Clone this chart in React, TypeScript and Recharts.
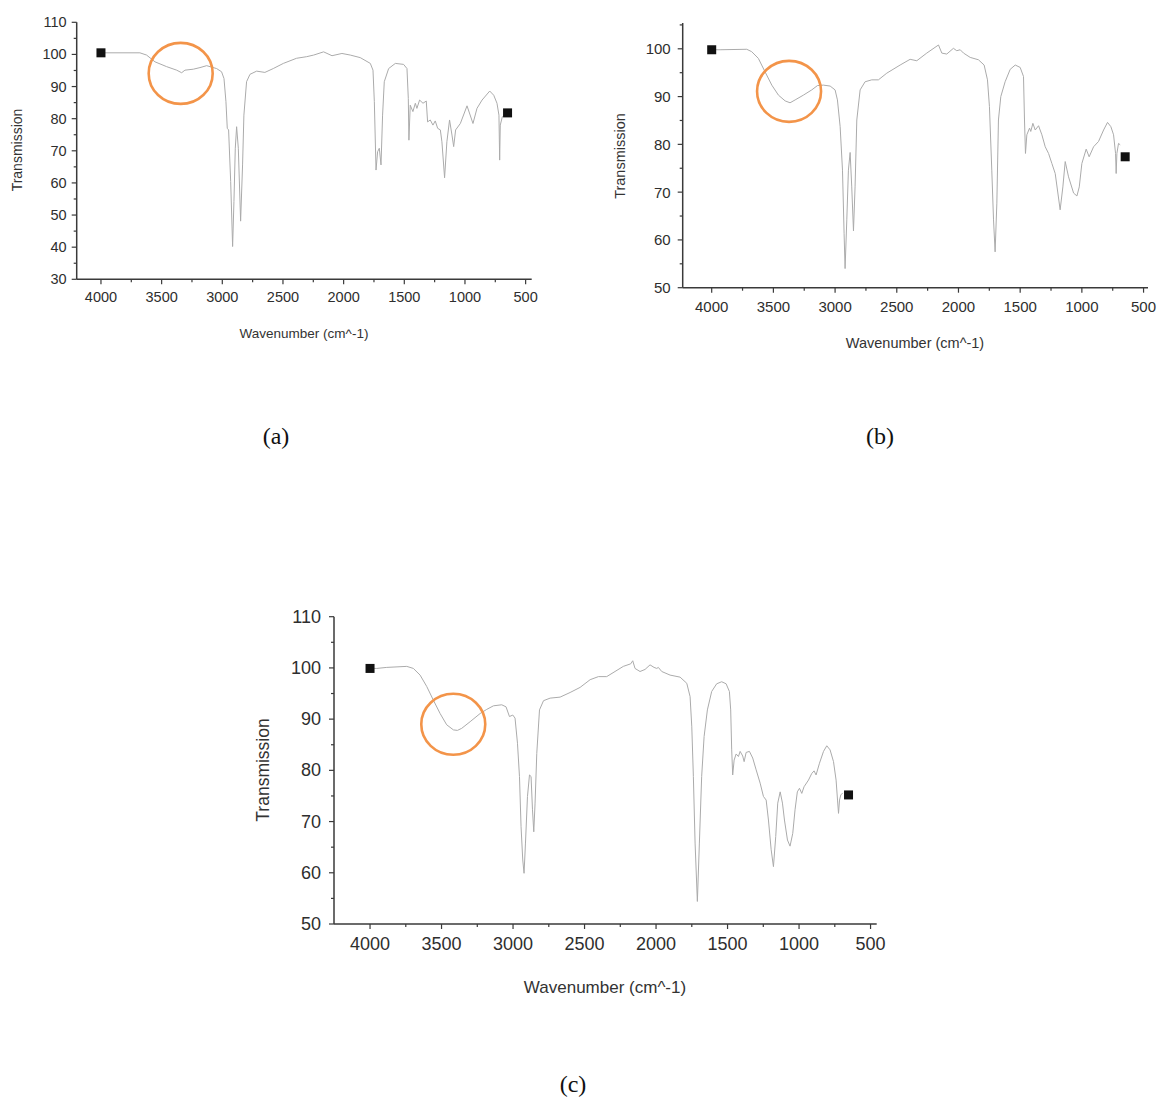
import React from "react";
import { ComposedChart, Line, Scatter, XAxis, YAxis, ReferenceDot } from "recharts";

// FTIR spectra: wavenumber (cm^-1) and transmission
const waveA = [4000, 3679, 3624, 3555, 3459, 3376, 3335, 3308, 3239, 3184, 3129, 3047, 3006, 2986, 2970, 2959, 2948, 2931, 2915, 2904, 2893, 2882, 2868, 2849, 2833, 2822, 2800, 2772, 2717, 2649, 2580, 2497, 2388, 2305, 2247, 2165, 2096, 2014, 1945, 1863, 1780, 1758, 1747, 1733, 1720, 1706, 1692, 1679, 1665, 1629, 1574, 1506, 1478, 1467, 1462, 1451, 1429, 1409, 1396, 1374, 1346, 1319, 1308, 1286, 1264, 1245, 1225, 1203, 1190, 1168, 1149, 1127, 1107, 1093, 1077, 1038, 983, 934, 901, 859, 796, 763, 736, 720, 714, 709, 692, 676];
const transA = [100.5, 100.5, 99.8, 97.7, 96.2, 95.1, 94.3, 95.1, 95.4, 95.9, 96.5, 95.6, 94.6, 92.5, 85.3, 77.0, 76.5, 60.4, 40.2, 54.2, 70.8, 77.5, 70.8, 48.1, 65.6, 81.1, 91.5, 93.8, 94.8, 94.4, 95.6, 97.2, 98.8, 99.3, 99.8, 100.8, 99.6, 100.3, 99.8, 99.0, 97.2, 95.1, 85.3, 64.0, 69.7, 70.8, 65.6, 81.1, 91.5, 95.6, 97.2, 96.9, 95.6, 86.3, 73.3, 84.2, 82.2, 84.8, 83.2, 85.8, 84.8, 85.5, 79.0, 79.6, 78.0, 79.3, 77.0, 76.5, 72.8, 61.6, 72.8, 79.6, 74.9, 71.3, 76.5, 78.5, 84.0, 78.5, 83.2, 85.8, 88.6, 87.3, 84.8, 81.1, 67.1, 78.0, 80.6, 81.1];

const waveB = [4000, 3932, 3716, 3676, 3622, 3568, 3513, 3459, 3405, 3365, 3324, 3257, 3189, 3143, 3095, 3040, 3000, 2981, 2959, 2940, 2927, 2919, 2905, 2892, 2878, 2865, 2851, 2838, 2824, 2797, 2757, 2703, 2649, 2581, 2473, 2392, 2338, 2257, 2162, 2135, 2095, 2041, 2014, 1986, 1959, 1905, 1838, 1792, 1765, 1749, 1730, 1716, 1703, 1689, 1676, 1657, 1622, 1581, 1540, 1500, 1473, 1465, 1457, 1446, 1424, 1414, 1397, 1378, 1351, 1324, 1297, 1270, 1243, 1216, 1176, 1154, 1135, 1108, 1067, 1040, 1021, 1000, 965, 941, 905, 865, 824, 792, 765, 743, 727, 722, 716, 703, 689];
const transB = [99.8, 99.8, 99.9, 99.4, 98.0, 95.2, 92.4, 90.3, 89.1, 88.7, 89.3, 90.3, 91.4, 92.3, 92.4, 92.2, 91.4, 89.3, 83.7, 74.6, 61.4, 54.0, 64.2, 74.6, 78.3, 71.1, 61.9, 71.1, 85.1, 91.4, 93.1, 93.5, 93.5, 94.9, 96.6, 97.8, 97.5, 99.1, 100.8, 99.1, 98.9, 100.1, 99.6, 99.8, 99.1, 98.2, 97.7, 96.6, 93.5, 87.9, 74.6, 64.2, 57.5, 67.7, 85.1, 90.0, 93.1, 95.7, 96.6, 96.1, 94.2, 85.1, 78.1, 82.0, 83.4, 82.7, 84.4, 83.0, 83.9, 82.0, 79.5, 78.1, 76.0, 73.9, 66.3, 71.1, 76.4, 73.2, 69.8, 69.2, 71.1, 76.0, 79.0, 77.4, 79.5, 80.6, 83.0, 84.6, 83.7, 82.0, 78.1, 73.9, 78.1, 80.2, 79.9];

const waveC = [4000, 3953, 3883, 3743, 3697, 3650, 3604, 3557, 3510, 3464, 3417, 3389, 3359, 3300, 3230, 3184, 3137, 3079, 3049, 3025, 3002, 2986, 2969, 2955, 2944, 2932, 2923, 2913, 2899, 2885, 2874, 2864, 2855, 2846, 2834, 2815, 2787, 2741, 2671, 2601, 2531, 2461, 2403, 2345, 2287, 2229, 2177, 2163, 2147, 2112, 2077, 2042, 2014, 1995, 1984, 1960, 1902, 1832, 1785, 1762, 1750, 1739, 1727, 1711, 1697, 1681, 1664, 1641, 1611, 1576, 1541, 1510, 1487, 1478, 1471, 1464, 1454, 1440, 1424, 1412, 1394, 1384, 1370, 1347, 1324, 1300, 1272, 1249, 1230, 1214, 1195, 1179, 1163, 1149, 1132, 1116, 1102, 1081, 1063, 1044, 1028, 1012, 997, 981, 965, 934, 911, 895, 881, 857, 829, 806, 783, 759, 741, 731, 724, 717, 708, 694];
const transC = [99.9, 99.9, 100.1, 100.3, 99.9, 98.6, 96.4, 93.7, 91.1, 88.9, 87.9, 87.8, 88.2, 89.5, 91.1, 91.9, 92.6, 92.8, 92.4, 90.5, 90.8, 90.2, 85.3, 78.8, 69.0, 62.5, 59.9, 65.8, 74.9, 79.1, 78.8, 72.3, 68.0, 73.6, 83.3, 91.8, 93.6, 94.1, 94.3, 95.2, 96.2, 97.7, 98.3, 98.3, 99.3, 100.3, 100.8, 101.4, 99.9, 99.3, 99.7, 100.6, 100.1, 99.9, 100.1, 99.3, 98.6, 98.2, 97.0, 94.4, 88.5, 78.8, 65.8, 54.4, 65.8, 78.8, 86.6, 91.8, 95.4, 96.9, 97.3, 96.9, 95.4, 91.8, 84.0, 79.1, 82.0, 83.2, 82.7, 83.7, 82.8, 81.7, 83.5, 83.7, 82.4, 80.1, 77.5, 74.9, 74.2, 70.3, 64.5, 61.2, 67.1, 73.6, 75.8, 73.6, 70.3, 66.4, 65.2, 67.7, 72.3, 75.8, 76.5, 75.5, 76.8, 78.1, 79.4, 79.9, 79.1, 81.4, 83.7, 84.8, 84.0, 81.7, 78.1, 74.2, 71.6, 74.2, 75.2, 75.6];

// end-point symbols (wavenumber, transmission)
const squareWaves = { a: [4000, 649], b: [4000, 649], c: [4000, 654] };
const squareTrans = { a: [100.5, 81.8], b: [99.8, 77.4], c: [99.9, 75.2] };

// highlighted O-H region
const circleWave = { a: 3343, b: 3373, c: 3418 };
const circleTrans = { a: 94.1, b: 91.1, c: 89.0 };

const xTicks = [4000, 3750, 3500, 3250, 3000, 2750, 2500, 2250, 2000, 1750, 1500, 1250, 1000, 750, 500];
const yTicksA = [30, 35, 40, 45, 50, 55, 60, 65, 70, 75, 80, 85, 90, 95, 100, 105, 110];
const yTicksB = [50, 55, 60, 65, 70, 75, 80, 85, 90, 95, 100, 105];
const yTicksC = [50, 55, 60, 65, 70, 75, 80, 85, 90, 95, 100, 105, 110];

const zip = (w: number[], t: number[]) => w.map((v, i) => ({ w: v, t: t[i] }));

const AXIS = "#3a3a3a";
const FONT = "'Liberation Sans', Arial, sans-serif";

const Spectrum = ({ cfg }: any) => {
  const { box, plot, xDom, yDom, yTicks, data, squares, circle, fs, xDy, yDx } = cfg;
  const YW = 60;
  const XH = 40;
  const margin = {
    top: plot.t - box.top,
    left: plot.l - box.left - YW,
    right: box.left + box.width - plot.r,
    bottom: box.top + box.height - plot.b - XH,
  };
  const xTick = (p: any) => {
    const v = p.payload.value;
    const major = v % 500 === 0;
    return (
      <g>
        <line x1={p.x} x2={p.x} y1={p.y} y2={p.y + (major ? 5 : 3)} stroke={AXIS} strokeWidth={1.2} />
        {major && (
          <text x={p.x} y={p.y + xDy} textAnchor="middle" dominantBaseline="central" fontSize={fs} fill="#2e2e2e" fontFamily={FONT}>
            {v}
          </text>
        )}
      </g>
    );
  };
  const yTick = (p: any) => {
    const v = p.payload.value;
    const major = v % 10 === 0;
    return (
      <g>
        <line x1={p.x} x2={p.x - (major ? 5 : 3)} y1={p.y} y2={p.y} stroke={AXIS} strokeWidth={1.2} />
        {major && (
          <text x={p.x - yDx} y={p.y} textAnchor="end" dominantBaseline="central" fontSize={fs} fill="#2e2e2e" fontFamily={FONT}>
            {v}
          </text>
        )}
      </g>
    );
  };
  return (
    <div style={{ position: "absolute", left: box.left, top: box.top }}>
      <ComposedChart width={box.width} height={box.height} margin={margin}>
        <XAxis
          type="number"
          dataKey="w"
          domain={xDom}
          reversed
          allowDataOverflow
          ticks={xTicks}
          interval={0}
          height={XH}
          tickSize={0}
          tickMargin={0}
          tickLine={false}
          tick={xTick}
          axisLine={{ stroke: AXIS, strokeWidth: 1.5 }}
        />
        <YAxis
          type="number"
          domain={yDom}
          allowDataOverflow
          ticks={yTicks}
          interval={0}
          width={YW}
          tickSize={0}
          tickMargin={0}
          tickLine={false}
          tick={yTick}
          axisLine={{ stroke: AXIS, strokeWidth: 1.5 }}
        />
        <Line data={data} dataKey="t" type="linear" stroke="#ababab" strokeWidth={1} dot={false} isAnimationActive={false} />
        <Scatter
          data={squares}
          dataKey="t"
          isAnimationActive={false}
          shape={(p: any) => <rect x={p.cx - 4.5} y={p.cy - 4.5} width={9} height={9} fill="#111" />}
        />
        <ReferenceDot
          x={circle.w}
          y={circle.t}
          ifOverflow="visible"
          shape={(p: any) => (
            <ellipse cx={p.cx} cy={p.cy} rx={32} ry={30.5} fill="none" stroke="#F39449" strokeWidth={2.6} />
          )}
        />
      </ComposedChart>
    </div>
  );
};

const Title = ({ x, y, size, rotate, children }: any) => (
  <div
    style={{
      position: "absolute",
      left: x,
      top: y,
      transform: `translate(-50%, -50%)${rotate ? " rotate(-90deg)" : ""}`,
      fontFamily: FONT,
      fontSize: size,
      color: "#333",
      whiteSpace: "nowrap",
    }}
  >
    {children}
  </div>
);

const Caption = ({ x, y, children }: any) => (
  <div
    style={{
      position: "absolute",
      left: x,
      top: y,
      transform: "translate(-50%, -50%)",
      fontFamily: "'Liberation Serif', 'Times New Roman', serif",
      fontSize: 24,
      color: "#111",
    }}
  >
    {children}
  </div>
);

const mk = (k: "a" | "b" | "c") => ({
  squares: zip(squareWaves[k], squareTrans[k]),
  circle: { w: circleWave[k], t: circleTrans[k] },
});

const cfgA = {
  box: { left: 0, top: 0, width: 560, height: 360 },
  plot: { l: 76.7, t: 22.3, r: 531.7, b: 279.3 },
  xDom: [450, 4200],
  yDom: [30, 110],
  yTicks: yTicksA,
  data: zip(waveA, transA),
  fs: 14.5,
  xDy: 18,
  yDx: 10,
  ...mk("a"),
};

const cfgB = {
  box: { left: 600, top: 0, width: 559, height: 360 },
  plot: { l: 682.7, t: 23, r: 1148, b: 287.7 },
  xDom: [464, 4235],
  yDom: [50, 105.4],
  yTicks: yTicksB,
  data: zip(waveB, transB),
  fs: 15,
  xDy: 18.5,
  yDx: 12,
  ...mk("b"),
};

const cfgC = {
  box: { left: 240, top: 590, width: 660, height: 420 },
  plot: { l: 334, t: 616.7, r: 876.7, b: 924 },
  xDom: [457, 4252],
  yDom: [50, 110],
  yTicks: yTicksC,
  data: zip(waveC, transC),
  fs: 18,
  xDy: 20,
  yDx: 13,
  ...mk("c"),
};

export default function App() {
  return (
    <div style={{ position: "absolute", left: 0, top: 0, width: 1159, height: 1097, background: "#fff", overflow: "hidden" }}>
      <Spectrum cfg={cfgA} />
      <Spectrum cfg={cfgB} />
      <Spectrum cfg={cfgC} />

      <Title x={304} y={333} size={13.5}>Wavenumber (cm^-1)</Title>
      <Title x={17} y={150} size={14} rotate>Transmission</Title>
      <Title x={915} y={343} size={14.5}>Wavenumber (cm^-1)</Title>
      <Title x={620} y={156} size={14.5} rotate>Transmission</Title>
      <Title x={605} y={988} size={17}>Wavenumber (cm^-1)</Title>
      <Title x={263} y={770} size={17.5} rotate>Transmission</Title>

      <Caption x={276} y={436}>(a)</Caption>
      <Caption x={880} y={436}>(b)</Caption>
      <Caption x={573} y={1084}>(c)</Caption>
    </div>
  );
}
